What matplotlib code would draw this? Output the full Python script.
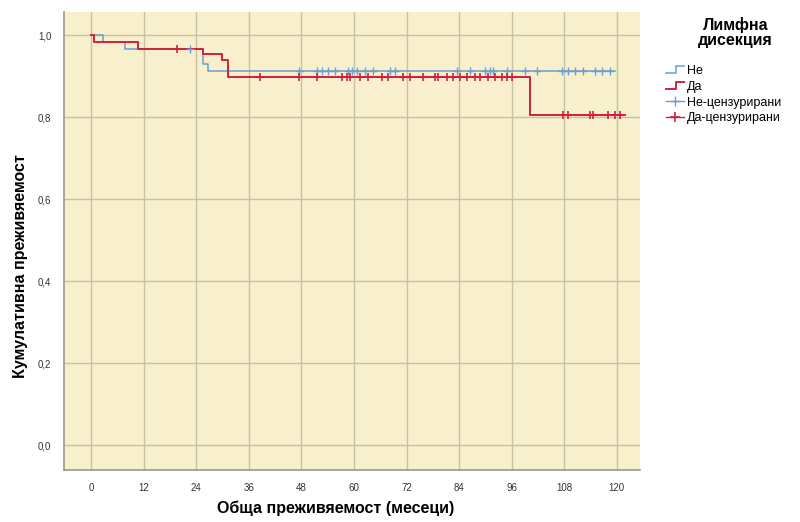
import numpy as np
import matplotlib
matplotlib.use("Agg")
import matplotlib.pyplot as plt
from matplotlib.lines import Line2D
from matplotlib.legend_handler import HandlerBase

plt.rcParams['font.family'] = ['Liberation Sans', 'DejaVu Sans']

# Kaplan-Meier step curves (months, cumulative survival)
ne_times = [0, 2.7, 7.8, 25.6, 26.7, 119.6]
ne_surv = [1.0, 0.983, 0.967, 0.930, 0.912, 0.912]
da_times = [0, 0.7, 10.7, 25.6, 29.8, 31.3, 100.2, 121.8]
da_surv = [1.0, 0.983, 0.967, 0.953, 0.939, 0.898, 0.805, 0.805]

# Censored observations (months)
ne_censored = [22.6, 47.5, 51.6, 52.7, 54.0, 55.6, 58.6, 59.5, 60.7, 62.5,
               64.3, 68.2, 69.4, 83.5, 86.5, 90.0, 91.0, 91.7, 95.0, 99.0,
               101.8, 107.5, 108.8, 110.4, 112.2, 115.0, 116.6, 118.4]
da_censored = [19.6, 38.6, 47.5, 51.6, 57.3, 58.4, 59.1, 61.4, 63.2, 66.4,
               67.8, 71.2, 72.8, 75.7, 78.5, 79.2, 81.2, 82.6, 84.2, 85.8,
               87.6, 88.8, 90.6, 92.2, 93.8, 94.9, 96.0, 107.7, 108.8, 113.8,
               114.5, 118.0, 119.5, 120.7]

x_ticks = [0, 12, 24, 36, 48, 60, 72, 84, 96, 108, 120]
y_ticks = [0.0, 0.2, 0.4, 0.6, 0.8, 1.0]
y_tick_labels = ['0,0', '0,2', '0,4', '0,6', '0,8', '1,0']

series_labels = ['Не', 'Да', 'Не-цензурирани', 'Да-цензурирани']
legend_title = 'Лимфна\nдисекция'
x_label = 'Обща преживяемост (месеци)'
y_label = 'Кумулативна преживяемост'

blue = '#6a9fd0'
red = '#d0203f'
bg = '#f8f0cc'
grid_c = '#c9c2a2'


def step_value(times, surv, t):
    idx = np.searchsorted(times, t, side='right') - 1
    return np.asarray(surv)[np.clip(idx, 0, len(surv) - 1)]


fig = plt.figure(figsize=(8, 5.22), dpi=100)
ax = fig.add_axes([0.08, 0.0996, 0.72, 0.877])
ax.set_facecolor(bg)

ax.step(ne_times, ne_surv, where='post', color=blue, lw=1.1, zorder=3)
ax.step(da_times, da_surv, where='post', color=red, lw=1.4, zorder=4)
ax.plot(ne_censored, step_value(ne_times, ne_surv, ne_censored), ls='none',
        marker='+', ms=6, mew=1.0, color=blue, zorder=5)
ax.plot(da_censored, step_value(da_times, da_surv, da_censored), ls='none',
        marker='+', ms=6, mew=1.2, color=red, zorder=6)

ax.set_xlim(-6.2, 125.3)
ax.set_ylim(-0.061, 1.056)
ax.set_xticks(x_ticks)
ax.set_xticklabels([str(v) for v in x_ticks])
ax.set_yticks(y_ticks)
ax.set_yticklabels(y_tick_labels)
ax.tick_params(length=0, labelsize=7, colors='#333333', pad=9)
ax.grid(True, color=grid_c, lw=1.0, zorder=1)
ax.set_axisbelow(True)
for s in ['top', 'right']:
    ax.spines[s].set_visible(False)
for s in ['left', 'bottom']:
    ax.spines[s].set_color('#9a9a8a')
    ax.spines[s].set_linewidth(1.2)

fig.text(0.42, 0.027, x_label, ha='center', va='center',
         fontsize=11.5, fontweight='bold')
fig.text(0.026, 0.49, y_label, ha='center', va='center', rotation=90,
         fontsize=11.5, fontweight='bold')


class StepHandler(HandlerBase):
    def create_artists(self, legend, orig_handle, xdescent, ydescent,
                       width, height, fontsize, trans):
        x0 = -xdescent
        y0 = -ydescent
        xs = [x0, x0 + width * 0.55, x0 + width * 0.55, x0 + width]
        ys = [y0 + height * 0.1, y0 + height * 0.1, y0 + height * 0.9, y0 + height * 0.9]
        ln = Line2D(xs, ys, color=orig_handle.get_color(),
                    lw=orig_handle.get_linewidth(), transform=trans)
        return [ln]


h_ne = Line2D([], [], color=blue, lw=1.1)
h_da = Line2D([], [], color=red, lw=1.4)
h_nec = Line2D([], [], color=blue, lw=1.0, marker='+', ms=7, mew=1.0)
h_dac = Line2D([], [], color=red, lw=1.0, marker='+', ms=7, mew=1.2)

fig.text(0.919, 0.968, legend_title, ha='center', va='top',
         fontsize=11.5, fontweight='bold', linespacing=1.05)
leg = fig.legend([h_ne, h_da, h_nec, h_dac], series_labels,
                 handler_map={h_ne: StepHandler(), h_da: StepHandler()},
                 loc='upper left', bbox_to_anchor=(0.832, 0.875),
                 frameon=False, fontsize=9,
                 handlelength=1.5, handletextpad=0.2, labelspacing=0.3,
                 borderaxespad=0, borderpad=0)

fig.savefig('out.png', dpi=100)
